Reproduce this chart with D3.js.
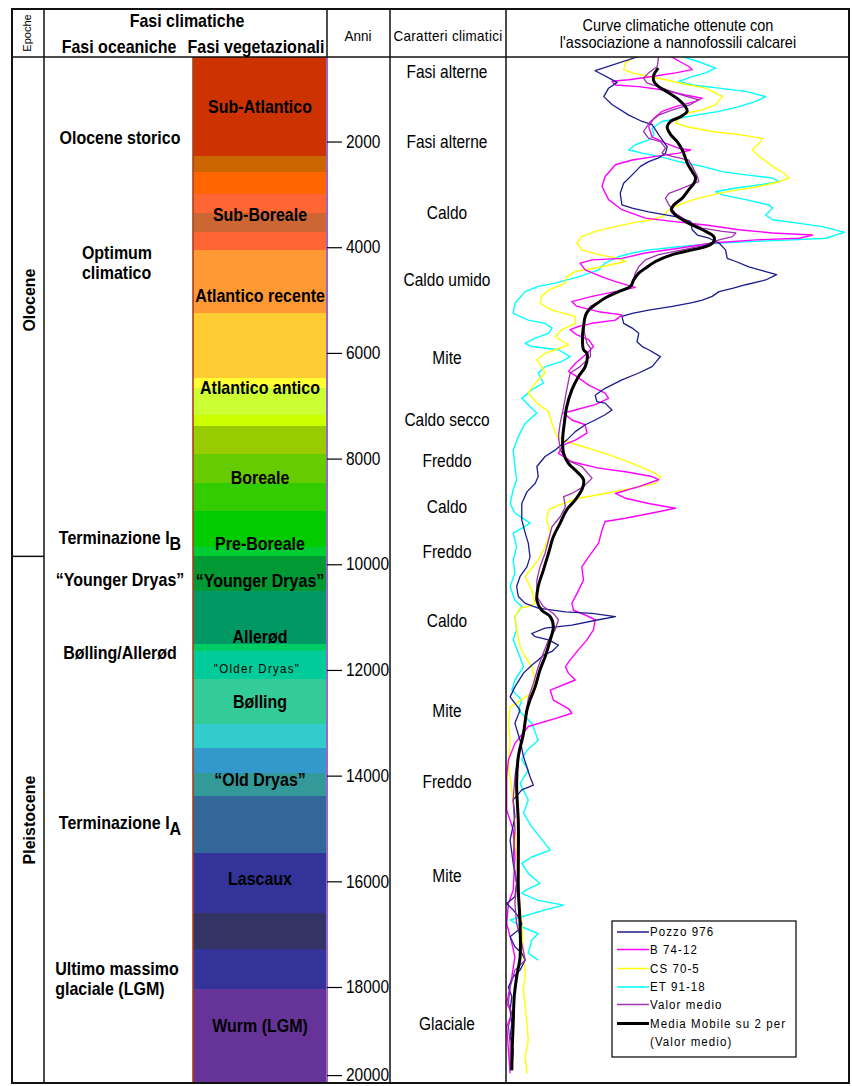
<!DOCTYPE html>
<html>
<head>
<meta charset="utf-8">
<script src="https://cdn.jsdelivr.net/npm/d3@7"></script>
<style>
  body { margin: 0; background: #fff; }
  svg { display: block; font-family: "Liberation Sans", Arial, sans-serif; }
</style>
</head>
<body>
<svg id="chart" width="852" height="1086"></svg>
<script>
// ---- Climate curves: [years BP, relative climatic index 0-100] ----
const pozzo976 = [[390,38.7],[660,26.0],[880,32.4],[990,29.9],[1150,28.5],[1300,30.9],[1500,35.8],[1620,39.7],[1680,42.6],[1870,44.5],[2100,47.0],[2220,46.5],[2310,44.5],[2380,41.6],[2470,39.2],[2630,36.8],[2790,34.3],[2980,33.3],[3200,33.8],[3260,36.8],[3330,41.6],[3420,49.4],[3510,53.8],[3670,54.3],[3770,55.8],[3830,59.2],[3920,62.1],[4050,64.0],[4210,64.5],[4270,67.0],[4370,70.8],[4460,75.7],[4520,78.9],[4620,75.7],[4710,69.9],[4780,66.0],[4840,62.1],[4930,60.1],[5000,57.2],[5050,54.3],[5120,48.5],[5190,41.6],[5250,36.8],[5310,33.8],[5440,34.3],[5530,36.8],[5630,38.7],[5790,38.2],[5880,39.7],[5940,41.6],[6070,45.0],[6260,42.6],[6380,38.7],[6510,33.8],[6670,28.9],[6800,26.0],[6920,26.5],[6950,28.9],[7080,30.9],[7170,28.9],[7270,26.0],[7360,23.1],[7490,20.2],[7650,17.7],[7840,14.3],[7960,11.4],[8150,9.0],[8340,9.4],[8470,8.5],[8630,6.1],[8850,4.6],[9160,4.6],[9410,5.6],[9600,6.5],[9860,7.0],[10050,6.1],[10230,4.1],[10420,3.1],[10610,3.6],[10740,5.6],[10830,9.4],[10900,17.3],[10930,25.1],[10990,31.9],[11050,27.0],[11150,19.2],[11210,11.4],[11310,7.5],[11370,8.5],[11430,12.4],[11530,15.3],[11650,13.4],[11720,10.9],[11810,9.4],[11910,7.5],[12060,5.1],[12320,2.6],[12510,1.2],[12760,4.1],[13010,2.6],[13330,4.1],[13640,5.1],[14020,7.0],[14180,8.0],[14270,4.6],[14460,2.1],[14780,2.6],[15220,1.2],[15660,2.1],[16040,3.1],[16290,2.6],[16420,0.2],[16540,2.1],[16670,3.6],[16800,4.6],[16920,3.6],[17050,1.2],[17240,2.6],[17360,4.6],[17490,5.6],[17680,4.1],[17810,2.1],[18000,0.7],[18220,1.7],[18520,1.2],[18830,1.7],[19130,1.2],[19430,2.1],[19890,1.7]];

const b7412 = [[390,48.0],[580,53.3],[640,54.3],[700,49.4],[770,42.6],[830,35.8],[860,30.9],[930,31.9],[960,38.7],[1020,45.5],[1120,52.3],[1180,57.2],[1240,55.3],[1340,49.4],[1430,45.5],[1560,43.1],[1720,41.6],[1910,42.6],[2030,46.5],[2130,50.4],[2160,53.8],[2220,50.4],[2280,43.6],[2350,36.8],[2440,31.9],[2660,28.9],[2850,28.0],[3100,29.9],[3290,33.8],[3450,40.6],[3510,48.5],[3580,58.2],[3670,67.9],[3730,77.7],[3770,89.4],[3830,85.5],[3860,72.8],[3920,60.1],[4020,50.4],[4110,40.6],[4210,33.8],[4240,25.1],[4300,21.6],[4430,23.1],[4560,28.0],[4650,31.9],[4760,37.7],[4840,31.9],[4930,25.1],[5030,19.2],[5120,20.7],[5220,27.0],[5280,33.8],[5380,31.9],[5440,25.1],[5500,21.1],[5560,18.7],[5660,20.7],[5750,24.1],[5880,25.5],[6010,23.6],[6200,20.2],[6350,18.2],[6450,20.7],[6610,24.1],[6760,28.9],[6860,29.9],[6980,26.0],[7080,20.2],[7140,16.8],[7270,19.2],[7360,23.1],[7520,23.6],[7650,20.2],[7740,16.8],[7900,15.3],[8060,19.2],[8180,27.0],[8250,34.8],[8340,42.6],[8400,44.5],[8530,38.7],[8660,31.9],[8750,34.8],[8850,41.6],[8940,49.4],[9030,42.6],[9130,34.8],[9190,28.9],[9350,28.0],[9600,27.0],[9860,24.1],[10050,22.1],[10300,22.6],[10550,20.7],[10740,19.2],[10870,19.7],[10960,23.1],[11050,26.0],[11240,25.5],[11430,23.6],[11620,21.1],[11810,18.7],[11940,17.3],[12060,18.2],[12190,20.2],[12380,12.9],[12570,13.8],[12730,18.2],[12820,19.2],[12920,14.3],[13070,6.5],[13390,2.6],[13700,0.7],[14020,0.2],[14650,0.2],[15030,2.1],[15540,2.6],[16170,2.1],[16420,0.7],[16800,0.2],[17170,1.7],[17430,2.6],[17810,1.7],[18370,0.2],[18600,1.7],[18900,0.2],[19430,0.7],[19960,1.2]];

const cs705 = [[390,37.2],[520,34.8],[640,34.3],[700,36.8],[770,41.6],[830,46.5],[930,53.3],[990,58.2],[1150,63.1],[1300,61.1],[1400,57.2],[1460,52.8],[1560,50.4],[1650,49.4],[1720,52.8],[1810,60.1],[1870,67.9],[1940,74.8],[2030,73.8],[2160,71.8],[2280,73.8],[2470,77.7],[2600,81.1],[2690,82.5],[2760,79.6],[2850,73.8],[2910,67.9],[2980,62.1],[3070,56.2],[3170,51.4],[3290,47.5],[3420,45.5],[3480,42.6],[3540,36.8],[3610,31.9],[3700,26.0],[3800,22.1],[3920,20.7],[4050,22.1],[4140,27.0],[4210,32.8],[4270,34.8],[4370,28.0],[4460,20.2],[4560,17.7],[4680,17.3],[4810,12.4],[4930,10.4],[5060,9.9],[5190,13.4],[5310,20.2],[5440,20.2],[5560,16.3],[5690,14.3],[5850,18.2],[6010,11.4],[6130,9.0],[6260,10.4],[6380,11.4],[6570,8.5],[6760,6.5],[6950,9.0],[7110,12.4],[7330,13.4],[7580,14.8],[7710,19.2],[7900,28.9],[8090,36.8],[8250,42.6],[8340,45.0],[8470,43.6],[8560,36.8],[8660,28.9],[8750,21.1],[8880,15.3],[8970,12.4],[9160,11.9],[9410,12.9],[9670,11.4],[9920,9.4],[10110,7.0],[10230,5.6],[10490,7.5],[10740,8.5],[10800,6.5],[10830,4.1],[10990,2.6],[11240,3.1],[11560,4.1],[11750,5.6],[11940,7.5],[12190,8.5],[12440,7.5],[12700,1.2],[13010,0.7],[13330,1.2],[13830,0.7],[14270,1.7],[14900,2.6],[15540,3.1],[16170,3.6],[16800,4.6],[17430,5.1],[17740,5.6],[18070,5.1],[18450,5.6],[18830,6.1],[19200,6.5],[19580,5.6],[19960,6.1]];

const et9118 = [[390,51.4],[490,56.2],[610,61.1],[700,58.2],[770,54.3],[860,50.4],[930,54.3],[990,62.1],[1050,69.9],[1150,75.7],[1240,72.8],[1340,67.9],[1430,62.1],[1490,56.2],[1560,50.4],[1620,45.5],[1750,42.6],[1870,43.1],[1970,41.6],[2060,37.7],[2160,35.8],[2220,39.7],[2280,44.5],[2380,50.4],[2470,57.2],[2570,63.1],[2630,69.9],[2690,77.7],[2760,79.6],[2820,73.8],[2880,67.0],[2950,61.1],[3010,63.1],[3100,69.9],[3200,76.7],[3260,77.7],[3390,75.7],[3480,77.7],[3540,84.5],[3610,92.3],[3720,98.6],[3830,93.3],[3860,83.5],[3890,72.8],[3920,62.1],[3990,50.4],[4050,41.6],[4110,36.8],[4180,32.8],[4300,28.9],[4430,27.0],[4560,21.1],[4680,14.3],[4740,9.4],[4840,5.6],[5060,2.6],[5250,2.1],[5380,6.5],[5440,11.4],[5530,13.4],[5630,12.4],[5720,8.5],[5820,5.6],[5880,7.5],[5940,15.3],[6070,18.7],[6160,16.3],[6260,11.4],[6380,9.4],[6570,10.9],[6700,7.5],[6860,4.6],[6980,6.5],[7140,9.0],[7330,5.6],[7580,3.6],[7840,2.1],[8150,2.6],[8400,3.1],[8590,2.1],[8850,1.2],[9030,2.6],[9160,5.6],[9220,7.0],[9320,4.6],[9410,2.1],[9670,3.1],[9920,2.1],[10170,2.6],[10420,1.2],[10680,2.6],[10800,4.6],[10990,2.6],[11240,3.1],[11430,2.1],[11680,3.6],[11940,5.1],[12190,2.6],[12380,1.7],[12570,4.6],[12760,3.6],[13010,7.5],[13330,9.4],[13520,6.1],[13700,4.6],[13890,6.5],[14150,4.1],[14460,6.5],[14710,5.1],[14970,7.5],[15410,12.9],[15540,7.5],[15660,4.6],[15850,6.5],[16040,9.9],[16170,5.6],[16230,4.6],[16360,9.4],[16450,16.8],[16540,11.4],[16670,4.6],[16730,1.2],[16860,4.6],[16990,9.4],[17110,7.5],[17360,6.5],[17490,9.4]];

const valorMedio = [[390,44.5],[580,44.1],[700,41.6],[800,40.1],[890,41.1],[990,45.5],[1120,51.4],[1210,56.2],[1300,53.8],[1400,48.5],[1500,44.5],[1620,42.1],[1810,40.1],[1940,41.6],[2000,45.0],[2120,46.5],[2220,45.5],[2280,48.5],[2350,53.3],[2470,54.3],[2660,55.8],[2760,56.2],[2820,53.8],[2910,50.4],[2980,47.5],[3070,46.5],[3200,47.5],[3360,49.4],[3480,52.3],[3640,57.2],[3700,63.1],[3730,67.0],[3800,66.0],[3860,62.1],[3960,58.2],[4050,51.4],[4140,44.5],[4240,40.6],[4370,38.7],[4490,37.7],[4680,36.8],[4780,35.8],[4870,31.9],[5000,28.0],[5120,24.6],[5250,23.1],[5440,22.6],[5630,22.9],[5820,23.6],[5910,24.6],[6070,24.6],[6260,21.6],[6380,18.7],[6700,17.7],[7020,16.8],[7330,15.8],[7580,15.3],[7840,15.8],[8030,17.7],[8150,22.1],[8370,25.1],[8530,22.6],[8660,19.2],[8720,16.8],[8910,17.3],[9100,15.8],[9290,13.4],[9540,12.4],[9790,11.4],[10050,9.9],[10300,9.0],[10610,9.0],[10800,10.9],[10930,13.8],[11050,15.3],[11240,14.3],[11430,12.4],[11680,10.9],[11940,9.4],[12250,8.0],[12540,6.5],[13140,5.1],[13580,3.6],[14020,2.6],[14460,2.1],[15030,2.6],[15540,2.1],[16040,3.1],[16420,2.6],[16800,3.1],[17170,4.6],[17490,5.6],[17680,2.6],[18000,1.2],[18370,0.7],[18600,1.7],[18900,0.7],[19280,1.2],[19890,1.2]];

const mediaMobile = [[610,44.4],[740,43.1],[860,43.1],[960,44.5],[1080,47.5],[1210,50.4],[1340,52.3],[1430,52.8],[1530,50.9],[1620,48.0],[1720,47.0],[1870,48.0],[2000,49.9],[2160,51.4],[2310,52.3],[2440,53.1],[2570,54.3],[2690,55.3],[2790,54.8],[2910,53.3],[3070,51.4],[3200,48.9],[3290,48.2],[3390,49.4],[3510,52.3],[3610,55.3],[3700,58.2],[3800,60.6],[3890,60.6],[3990,58.2],[4050,54.3],[4140,48.5],[4270,43.6],[4400,40.6],[4490,38.7],[4620,37.2],[4740,36.3],[4840,32.8],[4960,28.9],[5090,26.0],[5190,24.1],[5310,23.1],[5500,22.6],[5690,22.3],[5940,22.6],[6010,23.6],[6260,23.1],[6450,21.1],[6700,19.2],[7020,17.7],[7330,17.0],[7650,16.5],[7900,16.8],[8090,18.2],[8250,20.7],[8400,22.6],[8560,22.3],[8780,20.2],[8970,17.7],[9220,15.8],[9480,13.8],[9790,12.4],[10110,10.9],[10420,9.4],[10680,9.0],[10870,10.4],[10990,12.9],[11180,13.8],[11430,12.9],[11750,11.4],[12000,9.9],[12320,8.5],[12570,7.0],[12760,6.1],[13200,5.1],[13640,3.6],[14150,3.1],[14900,3.6],[15540,3.6],[16170,3.6],[16800,4.1],[17430,4.1],[17810,3.1],[18220,2.4],[18830,2.1],[19430,1.8],[19890,1.7]];

// ---- Vegetation phase bands (boundaries in years BP) ----
const bandEdges = [400,2280,2570,2990,3350,3720,4050,5240,6470,6660,7170,7380,7910,8460,8990,9670,9840,10500,11510,11640,12170,13020,13480,13950,14390,15460,16600,17280,18050,20180];
const bandColors = ["#CC3300","#CC6600","#FF6600","#FF6633","#CC6633","#FF6633","#FF9933","#FFCC33","#FFFF33","#CCFF33","#CCFF00","#99CC00","#66CC00","#33CC00","#00CC00","#00CC33","#009933","#009966","#00CC66","#00CC99","#33CC99","#33CCCC","#3399CC","#339999","#336699","#333399","#333366","#333399","#663399"];

const vegPhases = [["Sub-Atlantico",1340],["Sub-Boreale",3370],["Atlantico recente",4920],["Atlantico antico",6660],["Boreale",8350],["Pre-Boreale",9600],["“Younger Dryas”",10310],["Allerød",11370],["\"Older Dryas\"",11970],["Bølling",12600],["“Old Dryas”",14070],["Lascaux",15940],["Wurm (LGM)",18870]];

const oceanPhases = [["Olocene storico",1930],["Optimum|climatico",4280],["Terminazione I_B",9500],["“Younger Dryas”",10280],["Bølling/Allerød",11660],["Terminazione I_A",14880],["Ultimo massimo|glaciale (LGM)",17840]];

const climaChars = [["Fasi alterne",680],["Fasi alterne",2000],["Caldo",3350],["Caldo umido",4620],["Mite",6080],["Caldo secco",7270],["Freddo",8040],["Caldo",8910],["Freddo",9760],["Caldo",11070],["Mite",12760],["Freddo",14120],["Mite",15900],["Glaciale",18820]];

const epochNames = ["Olocene","Pleistocene"];
const epochLabelYears = [5000,14840];
const epochBoundary = 9850;

const yearTicks = [2000,4000,6000,8000,10000,12000,14000,16000,18000,20000];

const seriesNames = ["Pozzo 976","B 74-12","CS 70-5","ET 91-18","Valor medio","Media Mobile su 2 per|(Valor medio)"];
const seriesColors = ["#1c1c8e","#FF00FF","#FFFF00","#00FFFF","#A030B0","#000000"];

// ---- Layout ----
const L = { left: 12, right: 849, top: 9, bottom: 1083, head: 57, epoch: 44,
            barL: 193, barR: 327, anni: 390, curve: 506 };
const SY = 1.15;           // vertical stretch of lettering
const svg = d3.select("#chart");

const y = d3.scaleLinear().domain([400, 18000, 20180]).range([L.head, 987, L.bottom]);
const x = d3.scaleLinear().domain([0, 100]).range([L.curve, L.right]);

function label(g, str, cx, cy, o = {}) {
  const t = g.append("text")
    .attr("transform", `translate(${cx},${cy}) ${o.rotate ? "rotate(" + o.rotate + ")" : ""} scale(1,${o.sy ?? SY})`)
    .attr("text-anchor", o.anchor || "middle")
    .attr("dy", "0.36em")
    .attr("font-size", o.size || 16)
    .attr("font-weight", o.bold ? "bold" : "normal")
    .attr("letter-spacing", o.ls || 0)
    .attr("fill", "#000");
  const m = str.match(/^(.*)_(.)$/);
  if (m) {
    t.append("tspan").text(m[1]);
    t.append("tspan").attr("dy", 5).text(m[2]);
  } else {
    t.text(str);
  }
  return t;
}
// multi-line label: lines left-aligned, the block centred on cx
function block(g, str, cx, cy, o, gap) {
  const lines = str.split("|");
  const bg = g.append("g");
  const ts = lines.map((s, i) => label(bg, s, 0, cy + (i - (lines.length - 1) / 2) * gap, { ...o, anchor: "start" }));
  const w = d3.max(ts, t => t.node().getComputedTextLength());
  bg.attr("transform", `translate(${cx - w / 2},0)`);
}

// ---- Vegetation colour column ----
svg.append("g").attr("shape-rendering", "crispEdges")
  .selectAll("rect").data(bandColors).join("rect")
  .attr("x", L.barL).attr("width", L.barR - L.barL)
  .attr("y", (c, i) => y(bandEdges[i]))
  .attr("height", (c, i) => y(bandEdges[i + 1]) - y(bandEdges[i]))
  .attr("fill", c => c);
svg.append("line").attr("x1", L.barL).attr("x2", L.barL).attr("y1", L.head).attr("y2", L.bottom)
  .attr("stroke", "#A8401C").attr("stroke-width", 1.6);
svg.append("line").attr("x1", L.barR).attr("x2", L.barR).attr("y1", L.head).attr("y2", L.bottom)
  .attr("stroke", "#9966CC").attr("stroke-width", 2);

// ---- Curves ----
svg.append("defs").append("clipPath").attr("id", "plot")
  .append("rect").attr("x", L.curve).attr("y", L.head).attr("width", L.right - L.curve).attr("height", L.bottom - L.head);
const line = d3.line().x(d => x(d[1])).y(d => y(d[0]));
const curves = [
  { data: et9118, color: seriesColors[3], w: 1.4 },
  { data: cs705, color: seriesColors[2], w: 1.4 },
  { data: b7412, color: seriesColors[1], w: 1.4 },
  { data: pozzo976, color: seriesColors[0], w: 1.3 },
  { data: valorMedio, color: seriesColors[4], w: 1.3 },
  { data: mediaMobile, color: seriesColors[5], w: 3 }
];
const cg = svg.append("g").attr("clip-path", "url(#plot)");
cg.selectAll("path").data(curves).join("path")
  .attr("d", d => line.curve(d.w > 2 ? d3.curveCatmullRom : d3.curveLinear)(d.data))
  .attr("fill", "none").attr("stroke", d => d.color).attr("stroke-width", d => d.w)
  .attr("stroke-linejoin", "round");

// ---- Table grid ----
const grid = svg.append("g").attr("stroke", "#111").attr("stroke-width", 1.5).attr("fill", "none");
grid.append("rect").attr("x", L.left).attr("y", L.top).attr("width", L.right - L.left).attr("height", L.bottom - L.top).attr("stroke-width", 2);
grid.append("line").attr("x1", L.left).attr("x2", L.right).attr("y1", L.head).attr("y2", L.head);
[L.epoch, L.anni, L.curve].forEach(px =>
  grid.append("line").attr("x1", px).attr("x2", px).attr("y1", L.top).attr("y2", L.bottom));
grid.append("line").attr("x1", L.barR).attr("x2", L.barR).attr("y1", L.top).attr("y2", L.head);
grid.append("line").attr("x1", L.left).attr("x2", L.epoch).attr("y1", y(epochBoundary)).attr("y2", y(epochBoundary));

// ---- Year axis ----
const ax = svg.append("g").attr("transform", `translate(${L.barR},0)`)
  .call(d3.axisRight(y).tickValues(yearTicks).tickSize(15).tickPadding(4).tickFormat(d3.format("d")));
ax.select(".domain").remove();
ax.selectAll(".tick line").attr("stroke", "#000").attr("stroke-width", 1.2);
ax.selectAll(".tick text").attr("font-size", 15.5).attr("font-family", "Liberation Sans, Arial, sans-serif")
  .attr("fill", "#000").attr("transform", `scale(1,${SY})`);

// ---- Header ----
const hd = svg.append("g");
label(hd, "Epoche", 27, 33, { size: 11, rotate: -90, sy: 1 });
label(hd, "Fasi climatiche", 187, 20, { bold: true });
label(hd, "Fasi oceaniche", 119, 46, { bold: true });
label(hd, "Fasi vegetazionali", 256, 46, { bold: true });
label(hd, "Anni", 358, 35, { size: 13.5 });
label(hd, "Caratteri climatici", 448, 35, { size: 13.5, ls: 0.3 });
label(hd, "Curve climatiche ottenute con", 678, 25, { size: 14.5 });
label(hd, "l'associazione a nannofossili calcarei", 678, 42, { size: 14.5 });

// ---- Epochs ----
const eg = svg.append("g");
epochNames.forEach((n, i) => label(eg, n, 29, y(epochLabelYears[i]), { bold: true, size: 16, rotate: -90, sy: 1.05 }));

// ---- Oceanic phases ----
const og = svg.append("g");
oceanPhases.forEach(([s, yr]) => {
  if (s.includes("|")) block(og, s, 117, y(yr), { bold: true }, 20);
  else label(og, s, 120, y(yr), { bold: true });
});

// ---- Vegetation phases ----
const vg = svg.append("g");
vegPhases.forEach(([s, yr]) => {
  if (s.startsWith("\"")) label(vg, s, 257, y(yr), { size: 11.5, ls: 1.3 });
  else label(vg, s, 260, y(yr), { bold: true });
});

// ---- Climatic characters ----
const kg = svg.append("g");
climaChars.forEach(([s, yr]) => label(kg, s, 447, y(yr), { size: 15.5 }));

// ---- Legend ----
const lg = svg.append("g").attr("transform", "translate(612,921)");
lg.append("rect").attr("width", 184).attr("height", 136).attr("fill", "#fff").attr("stroke", "#000").attr("stroke-width", 1.2);
const rowY = [11, 28.5, 47.5, 66, 83.5, 102.5];
seriesNames.forEach((n, i) => {
  lg.append("line").attr("x1", 5).attr("x2", 37).attr("y1", rowY[i]).attr("y2", rowY[i])
    .attr("stroke", seriesColors[i]).attr("stroke-width", i === 5 ? 3 : 1.5);
  n.split("|").forEach((s, j) =>
    label(lg, s, 38, rowY[i] + j * 18, { anchor: "start", size: 11.5, ls: 1.1, sy: 1.05 }));
});
</script>
</body>
</html>
